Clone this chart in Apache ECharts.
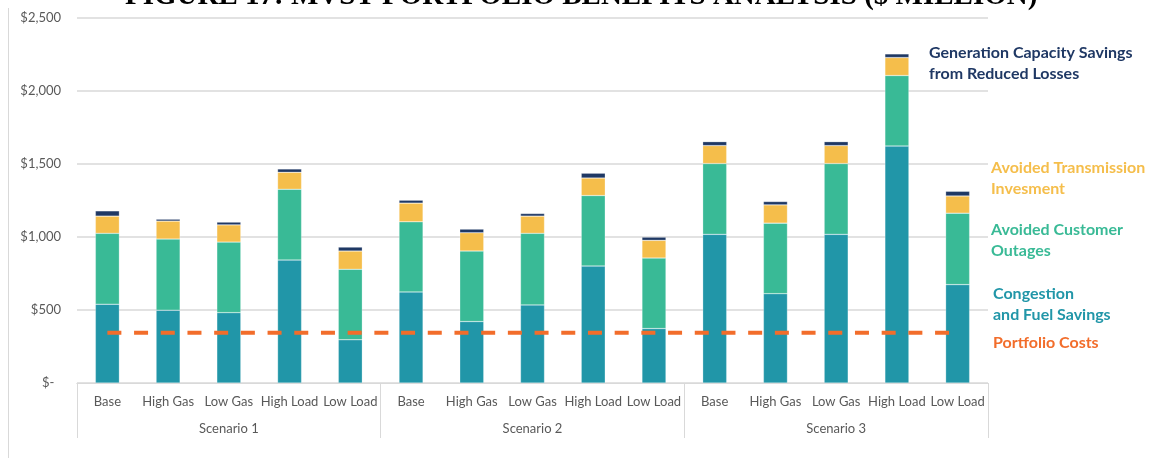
<!DOCTYPE html>
<html>
<head>
<meta charset="utf-8">
<script src="https://cdn.jsdelivr.net/npm/echarts@6/dist/echarts.min.js"></script>
<style>
html,body{margin:0;padding:0;background:#fff;}
#c{width:1149px;height:458px;}
</style>
</head>
<body>
<div id="c"></div>
<script>
const categories = ['Base','High Gas','Low Gas','High Load','Low Load',
                    'Base','High Gas','Low Gas','High Load','Low Load',
                    'Base','High Gas','Low Gas','High Load','Low Load'];
const scenarios = ['Scenario 1','Scenario 2','Scenario 3'];
const yTicks = [0, 500, 1000, 1500, 2000, 2500];

// Stacked segment values ($ million)
const congestionFuel = [540, 499, 482, 842, 296,  624, 421, 535, 801, 373,  1018, 612, 1018, 1623, 674];
const customerOutages = [485, 487, 483, 485, 483,  480, 483, 490, 483, 483,  485, 483, 485, 483, 489];
const transmission    = [118, 123, 118, 116, 125,  128, 125, 118, 120, 121,  123, 125, 123, 123, 118];
const genCapacity     = [36, 13, 19, 23, 27,  20, 25, 18, 33, 22,  27, 23, 27, 25, 32];
const portfolioCosts  = [345,345,345,345,345, 345,345,345,345,345, 345,345,345,345,345];

const C_TEAL = '#2196A8', C_GREEN = '#39BA96', C_YELLOW = '#F5BE4B', C_NAVY = '#1F3864', C_ORANGE = '#F26D2B';
const FONT = 'Lato';

const chart = echarts.init(document.getElementById('c'), null, {renderer:'canvas'});

function barSeries(name, data, color) {
  return {
    name, type:'bar', stack:'total', data, barWidth:24, xAxisIndex:0,
    itemStyle:{color, borderColor:'rgba(255,255,255,0.5)', borderWidth:0.5},
    emphasis:{disabled:true}
  };
}

const option = {
  animation:false,
  grid:{left:77, right:161, top:18, bottom:75, containLabel:false},
  xAxis:[
    {
      type:'category', data:categories, position:'bottom',
      axisLine:{show:true, lineStyle:{color:'#d9d9d9', width:1}},
      axisTick:{show:false},
      axisLabel:{color:'#595959', fontFamily:FONT, fontSize:13, margin:12, interval:0}
    },
    {
      type:'category', data:scenarios, position:'bottom',
      axisLine:{show:true, lineStyle:{color:'#d9d9d9', width:1}},
      axisTick:{show:true, length:55, lineStyle:{color:'#d9d9d9', width:1}},
      axisLabel:{color:'#595959', fontFamily:FONT, fontSize:13, margin:39}
    }
  ],
  yAxis:{
    type:'value', min:yTicks[0], max:yTicks[yTicks.length-1], interval:500,
    axisLine:{show:false}, axisTick:{show:false},
    splitLine:{lineStyle:{color:'#d9d9d9', width:1.5}},
    axisLabel:{
      color:'#595959', fontFamily:FONT, fontSize:13, margin:16,
      formatter:v => v === 0 ? '$-  ' : '$' + v.toLocaleString('en-US')
    }
  },
  series:[
    barSeries('Congestion and Fuel Savings', congestionFuel, C_TEAL),
    barSeries('Avoided Customer Outages', customerOutages, C_GREEN),
    barSeries('Avoided Transmission Invesment', transmission, C_YELLOW),
    barSeries('Generation Capacity Savings from Reduced Losses', genCapacity, C_NAVY),
    {
      name:'Portfolio Costs', type:'line', data:portfolioCosts, xAxisIndex:0,
      symbol:'none', z:5,
      lineStyle:{color:C_ORANGE, width:4, type:[14,12.7]},
      emphasis:{disabled:true}
    }
  ],
  graphic:[
    {type:'line', shape:{x1:8.5, y1:8, x2:8.5, y2:458}, style:{stroke:'#d9d9d9', lineWidth:1}, silent:true},
    {type:'text', x:125, y:11, style:{text:'FIGURE 17: MVST PORTFOLIO BENEFITS ANALYSIS ($ MILLION)', font:'bold 29px "Liberation Serif"', fill:'#000', verticalAlign:'bottom'}},
    {type:'text', left:929, top:42, style:{text:'Generation Capacity Savings\nfrom Reduced Losses', font:'bold 16px Lato', fill:C_NAVY, lineHeight:21}},
    {type:'text', left:991, top:157, style:{text:'Avoided Transmission\nInvesment', font:'bold 16px Lato', fill:C_YELLOW, lineHeight:21}},
    {type:'text', left:991, top:219, style:{text:'Avoided Customer\nOutages', font:'bold 16px Lato', fill:C_GREEN, lineHeight:21}},
    {type:'text', left:993, top:283, style:{text:'Congestion\nand Fuel Savings', font:'bold 16px Lato', fill:C_TEAL, lineHeight:21}},
    {type:'text', left:993, top:332, style:{text:'Portfolio Costs', font:'bold 16px Lato', fill:C_ORANGE, lineHeight:21}}
  ]
};
chart.setOption(option);
</script>
</body>
</html>
